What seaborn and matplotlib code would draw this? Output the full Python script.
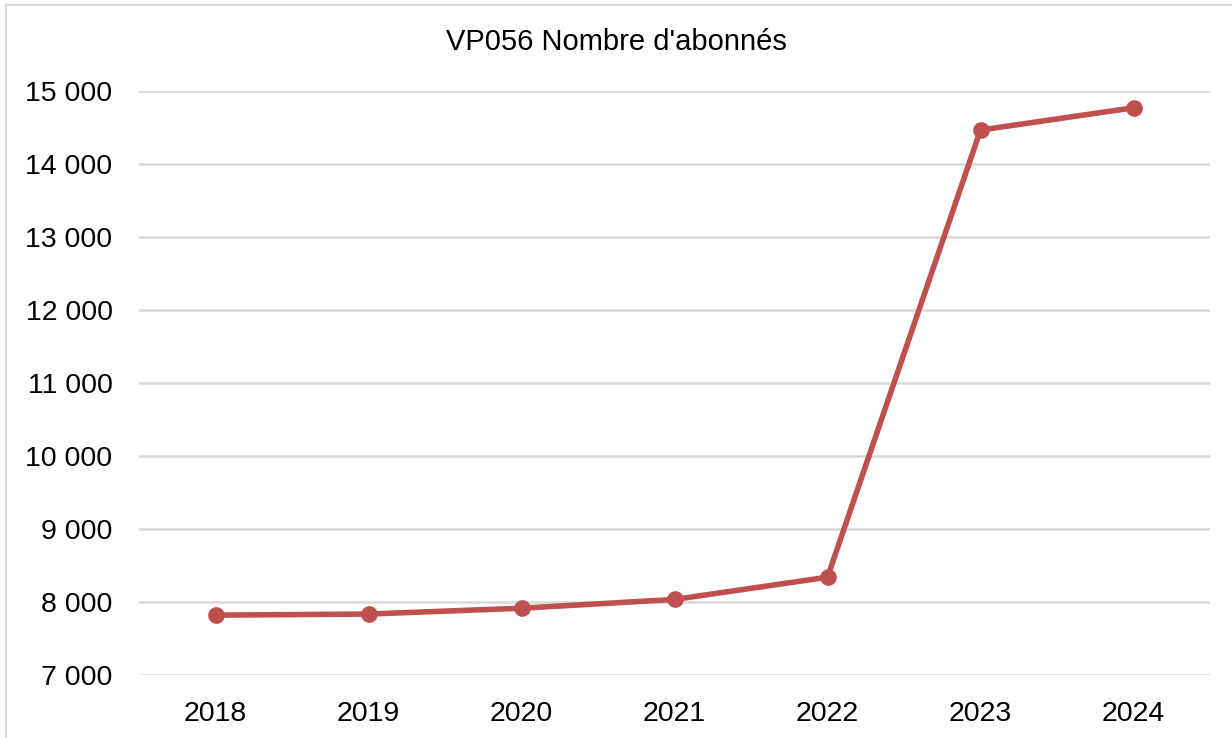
import matplotlib
matplotlib.use("Agg")
import matplotlib.pyplot as plt
import matplotlib.ticker as mticker
import seaborn as sns
import pandas as pd

# données
annees = ["2018", "2019", "2020", "2021", "2022", "2023", "2024"]
abonnes = [7820, 7835, 7915, 8035, 8340, 14465, 14770]

df = pd.DataFrame({"annee": annees, "abonnes": abonnes})

sns.set_style("white")
plt.rcParams['font.family'] = ['Liberation Sans', 'DejaVu Sans']

fig = plt.figure(figsize=(12.32, 7.38), dpi=100)
ax = fig.add_axes([139 / 1232, 1 - 675 / 738, (1210 - 139) / 1232, (675 - 91) / 738])

# cadre gris autour du graphique
fig.patches.append(plt.Rectangle((6 / 1232, -0.05), 1.2, 1 - 5 / 738 + 0.05,
                                 transform=fig.transFigure, fill=False,
                                 edgecolor='#d9d9d9', linewidth=1.5, zorder=0))

sns.lineplot(
  data=df,
  x='annee',
  y='abonnes',
  color='#c0504d',
  linewidth=4,
  marker='o',
  markersize=12,
  markeredgewidth=0,
  ax=ax,
)

ax.set_xlim(-0.5, 6.5)
ax.set_ylim(7000, 15000)
ax.yaxis.set_major_locator(mticker.MultipleLocator(1000))
ax.yaxis.set_major_formatter(mticker.FuncFormatter(lambda v, p: f"{int(v):,}".replace(",", " ")))
ax.grid(axis='y', color='#d9d9d9', linewidth=1.8)
ax.set_axisbelow(True)
for s in ax.spines.values():
  s.set_visible(False)
ax.tick_params(axis='both', length=0, labelsize=20.5, colors='black')
ax.tick_params(axis='x', pad=19)
ax.tick_params(axis='y', pad=19)
ax.set_xlabel("")
ax.set_ylabel("")
fig.text(0.5, 1 - 42 / 738, "VP056 Nombre d'abonnés", ha='center', va='center',
         fontsize=21, color='black')

plt.savefig("out.png", dpi=100)
plt.close()
